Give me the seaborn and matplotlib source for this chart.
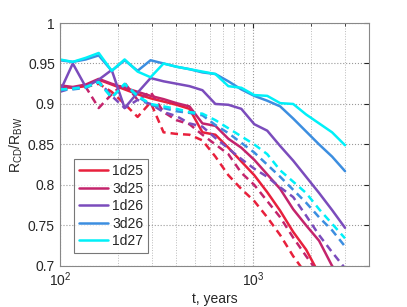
import numpy as np
import pandas as pd
import seaborn as sns
import matplotlib.pyplot as plt
from matplotlib.lines import Line2D

# snapshot times (years), log spaced 100..3000
t = np.logspace(2, np.log10(3000), 23)

models = ['1d25', '3d25', '1d26', '3d26', '1d27']
colors = ['#e8203c', '#c4246c', '#7b4cbc', '#3c8ee0', '#00f0f8']

# solid curves
r_1d25 = [0.921, 0.920, 0.922, 0.930, 0.924, 0.918, 0.912, 0.907, 0.903, 0.899, 0.894, 0.865,
          0.862, 0.846, 0.829, 0.812, 0.791, 0.768, 0.742, 0.720, 0.690, 0.672, 0.655]
r_3d25 = [0.923, 0.921, 0.924, 0.931, 0.925, 0.920, 0.915, 0.910, 0.906, 0.901, 0.897, 0.876,
          0.873, 0.857, 0.846, 0.831, 0.813, 0.795, 0.770, 0.750, 0.731, 0.700, 0.680]
r_1d26 = [0.915, 0.950, 0.921, 0.930, 0.942, 0.895, 0.914, 0.932, 0.928, 0.925, 0.922, 0.917,
          0.900, 0.899, 0.894, 0.875, 0.867, 0.848, 0.830, 0.810, 0.790, 0.769, 0.747]
r_3d26 = [0.954, 0.952, 0.955, 0.960, 0.941, 0.954, 0.941, 0.954, 0.950, 0.946, 0.943, 0.939,
          0.937, 0.928, 0.918, 0.910, 0.904, 0.897, 0.882, 0.866, 0.850, 0.835, 0.817]
r_1d27 = [0.955, 0.952, 0.957, 0.963, 0.941, 0.955, 0.940, 0.933, 0.950, 0.946, 0.943, 0.940,
          0.937, 0.922, 0.920, 0.911, 0.910, 0.901, 0.900, 0.887, 0.876, 0.865, 0.849]

# dashed curves
d_1d25 = [0.918, 0.920, 0.921, 0.925, 0.915, 0.900, 0.884, 0.902, 0.865, 0.863, 0.862, 0.855,
          0.835, 0.812, 0.795, 0.780, 0.760, 0.738, 0.712, 0.690, 0.670, 0.650, 0.630]
d_3d25 = [0.920, 0.919, 0.921, 0.895, 0.912, 0.926, 0.905, 0.915, 0.890, 0.880, 0.875, 0.862,
          0.850, 0.838, 0.815, 0.800, 0.780, 0.760, 0.735, 0.712, 0.690, 0.670, 0.650]
d_1d26 = [0.915, 0.920, 0.921, 0.928, 0.910, 0.895, 0.905, 0.900, 0.890, 0.885, 0.876, 0.872,
          0.858, 0.845, 0.832, 0.820, 0.810, 0.797, 0.785, 0.762, 0.738, 0.717, 0.697]
d_3d26 = [0.917, 0.918, 0.920, 0.927, 0.908, 0.924, 0.909, 0.899, 0.895, 0.891, 0.889, 0.886,
          0.874, 0.864, 0.852, 0.840, 0.825, 0.810, 0.794, 0.778, 0.760, 0.744, 0.724]
d_1d27 = [0.918, 0.919, 0.921, 0.927, 0.908, 0.925, 0.910, 0.900, 0.897, 0.894, 0.890, 0.888,
          0.880, 0.870, 0.860, 0.850, 0.838, 0.818, 0.804, 0.790, 0.770, 0.752, 0.734]

solid = [r_1d25, r_3d25, r_1d26, r_3d26, r_1d27]
dashed = [d_1d25, d_3d25, d_1d26, d_3d26, d_1d27]

rows = []
for m, s, d in zip(models, solid, dashed):
    for ti, v in zip(t, s):
        rows.append((ti, v, m, 'solid'))
    for ti, v in zip(t, d):
        rows.append((ti, v, m, 'dashed'))
df = pd.DataFrame(rows, columns=['t', 'r', 'model', 'kind'])

sns.set_style('white')
plt.rcParams['font.family'] = ['Liberation Sans', 'DejaVu Sans']

fig = plt.figure(figsize=(4.07, 3.07), dpi=100)
ax = fig.add_axes([0.147, 0.134, 0.760, 0.791])

sns.lineplot(data=df, x='t', y='r', hue='model', style='kind',
             palette=dict(zip(models, colors)),
             dashes={'solid': '', 'dashed': (3, 2)},
             style_order=['dashed', 'solid'],
             linewidth=1.8, legend=False, ax=ax)

ax.set_xscale('log')
ax.set_xlim(100, 4000)
ax.set_ylim(0.7, 1.0)
ax.set_yticks([0.7, 0.75, 0.8, 0.85, 0.9, 0.95, 1.0])
ax.set_yticklabels(['0.7', '0.75', '0.8', '0.85', '0.9', '0.95', '1'])
ax.grid(True, which='major', linestyle=':', color='#999999', linewidth=0.8)
ax.grid(True, which='minor', axis='x', linestyle=':', color='#bbbbbb', linewidth=0.7)
ax.tick_params(which='both', direction='in', labelsize=10, top=True, right=True)
for sp in ax.spines.values():
    sp.set_color('#888888')
    sp.set_linewidth(0.8)

ax.set_xlabel('t, years', fontsize=10, labelpad=2)
ax.set_ylabel(r'$\mathregular{R_{CD}/R_{BW}}$', fontsize=10, labelpad=2)

handles = [Line2D([0], [0], color=c, lw=1.8) for c in colors]
leg = ax.legend(handles, models, loc='lower left', bbox_to_anchor=(0.045, 0.053),
                borderaxespad=0, fontsize=10, frameon=True, fancybox=False,
                handlelength=2.1, handletextpad=0.3, labelspacing=0.25,
                borderpad=0.35)
leg.get_frame().set_edgecolor('#555555')
leg.get_frame().set_linewidth(0.8)

fig.savefig('out.png', dpi=100)
